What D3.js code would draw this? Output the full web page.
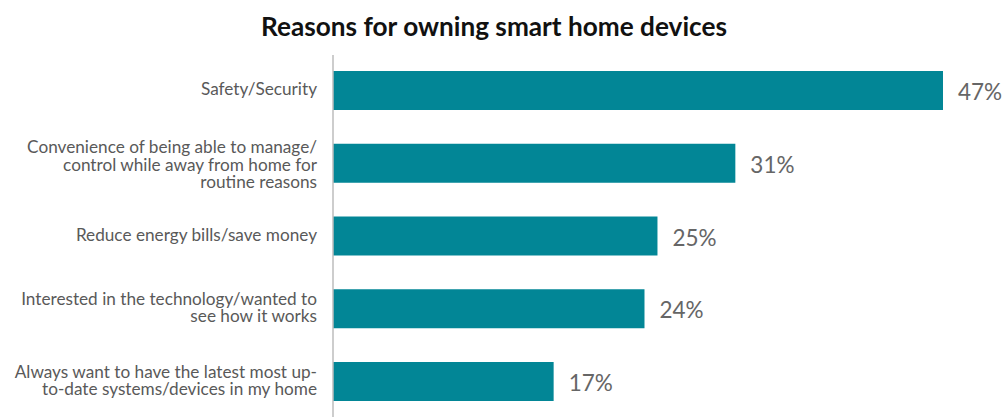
<!DOCTYPE html>
<html>
<head>
<meta charset="utf-8">
<script src="https://cdn.jsdelivr.net/npm/d3@7"></script>
<style>
  html, body { margin: 0; padding: 0; background: #fff; }
  svg { display: block; }
</style>
</head>
<body>
<svg id="chart" width="1004" height="417"></svg>
<script>
// Survey reasons (top to bottom) and share of owners citing each
const categories = [
  "Safety/Security",
  "Convenience of being able to manage/|control while away from home for|routine reasons",
  "Reduce energy bills/save money",
  "Interested in the technology/wanted to|see how it works",
  "Always want to have the latest most up-|to-date systems/devices in my home"
];
const values = [47, 31, 25, 24, 17];
const valueLabels = ["47%", "31%", "25%", "24%", "17%"];
const title = "Reasons for owning smart home devices";

const FONT = "Lato, 'Noto Sans', sans-serif";
const svg = d3.select("#chart");

const x = d3.scaleLinear().domain([0, 47]).range([333, 943]);
const y = d3.scaleBand()
  .domain(categories)
  .range([55, 417])
  .paddingInner(0.464)
  .paddingOuter(0.22);

// Title
svg.append("text")
  .attr("x", 494)
  .attr("y", 36)
  .attr("text-anchor", "middle")
  .attr("font-family", FONT)
  .attr("font-weight", 700)
  .attr("font-size", 26.2)
  .attr("fill", "#111")
  .text(title);

// Bars
svg.append("g").selectAll("rect")
  .data(values)
  .join("rect")
  .attr("x", x(0))
  .attr("y", (d, i) => y(categories[i]))
  .attr("width", d => x(d) - x(0))
  .attr("height", y.bandwidth())
  .attr("fill", "#028696");

// Value labels
svg.append("g").selectAll("text")
  .data(values)
  .join("text")
  .attr("x", d => x(d) + 15)
  .attr("y", (d, i) => y(categories[i]) + y.bandwidth() / 2 + 4)
  .attr("dominant-baseline", "middle")
  .attr("font-family", FONT)
  .attr("font-size", 22.5)
  .attr("fill", "#666")
  .text((d, i) => valueLabels[i]);

// Category labels (multi-line, right-aligned against the axis)
const lineH = 17.6;
svg.append("g").selectAll("text")
  .data(categories)
  .join("text")
  .attr("text-anchor", "end")
  .attr("font-family", FONT)
  .attr("font-size", 17.2)
  .attr("fill", "#595959")
  .each(function(d) {
    const lines = d.split("|");
    const cy = y(d) + y.bandwidth() / 2 + (lines.length > 2 ? 3 : 0.5);
    const top = cy - (lines.length - 1) * lineH / 2;
    d3.select(this).selectAll("tspan")
      .data(lines)
      .join("tspan")
      .attr("x", 317)
      .attr("y", (l, j) => top + j * lineH)
      .attr("dominant-baseline", "middle")
      .text(l => l);
  });

// Vertical axis line
svg.append("line")
  .attr("x1", x(0)).attr("x2", x(0))
  .attr("y1", 55).attr("y2", 417)
  .attr("stroke", "#bdbdbd")
  .attr("stroke-width", 1.5);
</script>
</body>
</html>
